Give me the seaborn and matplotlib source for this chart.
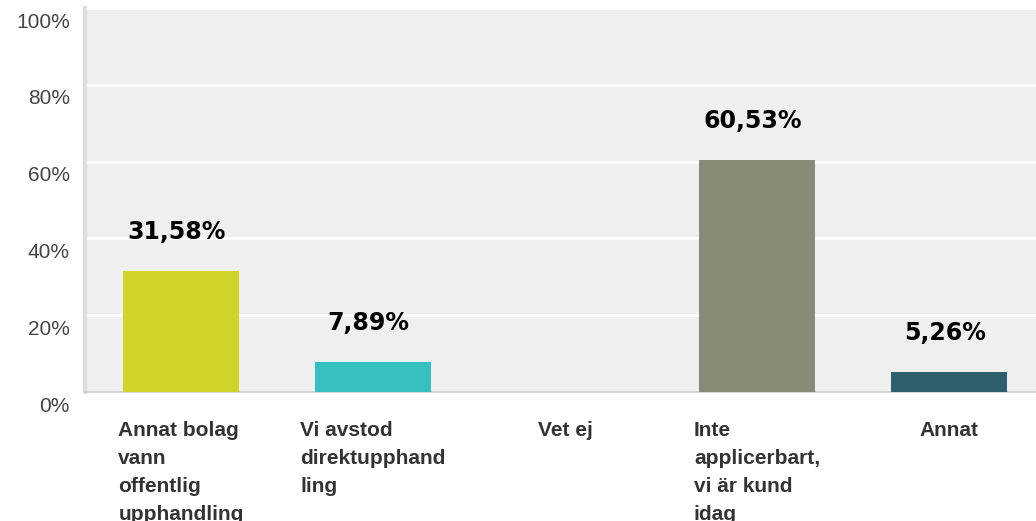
import matplotlib
matplotlib.use("Agg")
import matplotlib.pyplot as plt
import matplotlib.transforms as mtransforms
import seaborn as sns
import pandas as pd

categories = ["Annat bolag\nvann\noffentlig\nupphandling",
              "Vi avstod\ndirektupphand\nling",
              "Vet ej",
              "Inte\napplicerbart,\nvi är kund\nidag",
              "Annat"]
values = [31.58, 7.89, 0.0, 60.53, 5.26]
colors = ["#D0D42A", "#35BFC1", "#999999", "#8A8A78", "#2F5F6C"]
yticks = [0, 20, 40, 60, 80, 100]

df = pd.DataFrame({"cat": categories, "val": values})

sns.set_style("white", {"axes.facecolor": "#EFEFEF"})
plt.rcParams["font.family"] = ["Liberation Sans", "DejaVu Sans"]

fig = plt.figure(figsize=(10.36, 5.21), dpi=100)
ax = fig.add_axes([85 / 1036, 129 / 521, 960 / 1036, 384 / 521])

sns.barplot(data=df, x="cat", y="val", hue="cat", palette=dict(zip(categories, colors)),
            legend=False, width=0.604, saturation=1, linewidth=0, ax=ax, zorder=3)

ax.set_xlim(-0.5, 4.5)
ax.set_ylim(0, 100)
ax.set_yticks(yticks)
ax.set_yticklabels([f"{t}%" for t in yticks], fontsize=15, color="#444444")
ax.yaxis.grid(True, color="white", linewidth=2, zorder=0)
ax.set_axisbelow(True)
ax.tick_params(axis="y", length=0, pad=11)
ax.tick_params(axis="x", length=0, pad=21)
ax.set_xlabel("")
ax.set_ylabel("")

# y labels sit a little below their gridlines
shift = mtransforms.ScaledTranslation(0, -12 / 100, fig.dpi_scale_trans)
for lab in ax.get_yticklabels():
    lab.set_transform(lab.get_transform() + shift)

for lab in ax.get_xticklabels():
    lab.set_fontsize(15)
    lab.set_fontweight("bold")
    lab.set_color("#333333")
    lab.set_multialignment("left")
    lab.set_verticalalignment("top")
    lab.set_linespacing(1.6)

for s in ["top", "right"]:
    ax.spines[s].set_visible(False)
ax.spines["left"].set_color("#DDDDDD")
ax.spines["left"].set_linewidth(3)
ax.spines["bottom"].set_color("#D5D5D5")
ax.spines["bottom"].set_linewidth(1.5)

for i, v in enumerate(values):
    if v == 0:
        continue
    ax.annotate(f"{v:.2f}%".replace(".", ","), xy=(i, v), xytext=(-3, 28),
                textcoords="offset points", ha="center", va="center",
                fontsize=17, fontweight="bold", color="black", family="DejaVu Sans")

fig.savefig("out.png", dpi=100)
